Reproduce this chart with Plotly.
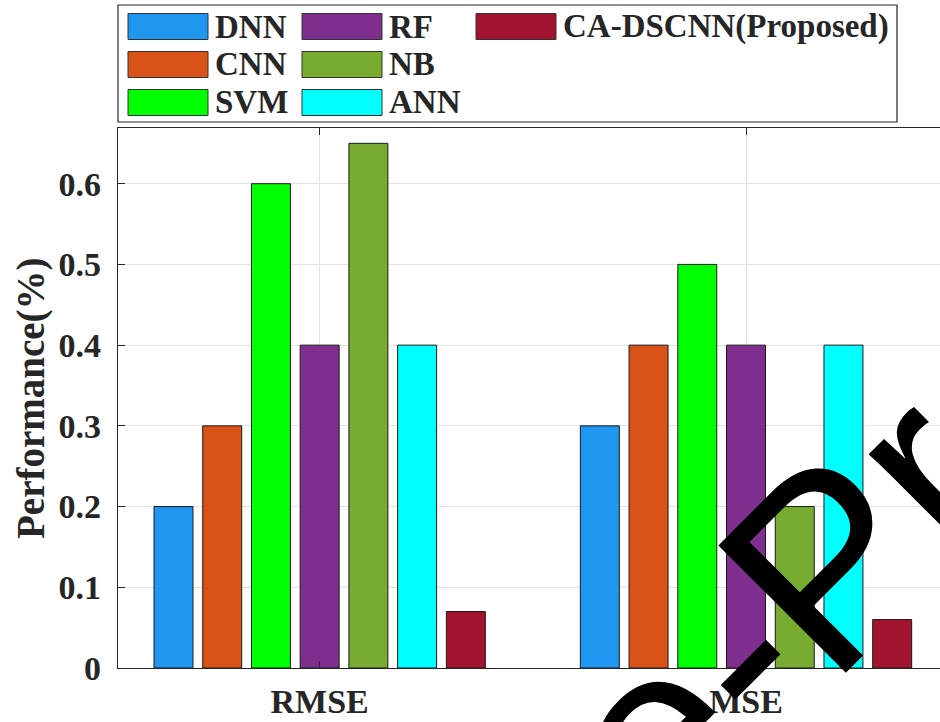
import plotly.graph_objects as go

# ---- data ----
categories = ["RMSE", "MSE"]
models = ["DNN", "CNN", "SVM", "RF", "NB", "ANN", "CA-DSCNN(Proposed)"]
dnn = [0.20, 0.30]
cnn = [0.30, 0.40]
svm = [0.60, 0.50]
rf = [0.40, 0.40]
nb = [0.65, 0.20]
ann = [0.40, 0.40]
ca_dscnn = [0.07, 0.06]
y_ticks = [0, 0.1, 0.2, 0.3, 0.4, 0.5, 0.6]
y_tick_labels = ["0", "0.1", "0.2", "0.3", "0.4", "0.5", "0.6"]

series = [dnn, cnn, svm, rf, nb, ann, ca_dscnn]
colors = ["#1F96F0", "#D95319", "#00FF00", "#7E2F8E", "#77AC30", "#00FFFF", "#A2142F"]

W, H = 940, 722
ML, MR, MT, MB = 118, 0, 128, 54
PW, PH = W - ML - MR, H - MT - MB
FONT = "Liberation Serif"


def px(x):
    return (x - ML) / PW


def py(y):
    return (H - MB - y) / PH


fig = go.Figure()
xpos = list(range(1, len(categories) + 1))
for name, vals, col in zip(models, series, colors):
    fig.add_trace(go.Bar(
        x=xpos, y=vals, name=name,
        marker=dict(color=col, line=dict(color="#1a1a1a", width=1)),
        showlegend=False,
    ))

# custom legend (large swatches, as in the original)
shapes = [dict(type="rect", xref="paper", yref="paper",
               x0=px(118), x1=px(897), y0=py(122), y1=py(5),
               fillcolor="white", line=dict(color="#262626", width=1.2), layer="above")]
annotations = []
for i, (name, col) in enumerate(zip(models, colors)):
    c, r = i // 3, i % 3
    sx0 = 128 + 174 * c
    sx1 = sx0 + 80
    cy = 26.5 + 38 * r
    shapes.append(dict(type="rect", xref="paper", yref="paper",
                       x0=px(sx0), x1=px(sx1), y0=py(cy + 13), y1=py(cy - 13),
                       fillcolor=col, line=dict(color="#333333", width=1), layer="above"))
    annotations.append(dict(x=px(sx1 + 5), y=py(cy), xref="paper", yref="paper",
                            text="<b>%s</b>" % name, showarrow=False, xanchor="left", yanchor="middle",
                            font=dict(family=FONT, size=33, color="#262626")))

# y-axis title
annotations.append(dict(x=px(31), y=py(398), xref="paper", yref="paper",
                        text="<b>Performance(%)</b>", showarrow=False, textangle=-90,
                        xanchor="center", yanchor="middle",
                        font=dict(family=FONT, size=39, color="#262626")))

# watermark
annotations.append(dict(x=px(813), y=py(577), xref="paper", yref="paper",
                        text="Pre-Proof", showarrow=False, textangle=-45,
                        xanchor="center", yanchor="middle",
                        font=dict(family="Liberation Sans", size=262, color="black")))

fig.update_layout(
    width=W, height=H,
    margin=dict(l=ML, r=MR, t=MT, b=MB, autoexpand=False),
    paper_bgcolor="white", plot_bgcolor="white",
    barmode="group", bargap=0.2, bargroupgap=0.2,
    shapes=shapes, annotations=annotations,
    font=dict(family=FONT, color="#262626"),
)
fig.update_xaxes(
    range=[0.527, 2.455], tickvals=xpos, ticktext=["<b>%s</b>" % c for c in categories],
    tickfont=dict(family=FONT, size=34, color="#262626"),
    showgrid=True, gridcolor="#e3e3e3", gridwidth=1,
    showline=True, linecolor="#262626", linewidth=1.2, mirror="ticks",
    ticks="inside", ticklen=7, tickcolor="#262626",
    ticklabelstandoff=3, zeroline=False, automargin=False,
)
fig.update_yaxes(
    range=[0, 0.669], tickvals=y_ticks, ticktext=["<b>%s</b>" % t for t in y_tick_labels],
    tickfont=dict(family=FONT, size=34, color="#262626"),
    showgrid=True, gridcolor="#e3e3e3", gridwidth=1,
    showline=True, linecolor="#262626", linewidth=1.2, mirror=False,
    ticks="inside", ticklen=7, tickcolor="#262626",
    ticklabelstandoff=9, zeroline=False, automargin=False,
)

fig.write_html("out.html", config={"displayModeBar": False},
               post_script="document.body.style.margin='0';document.body.style.overflow='hidden';")
